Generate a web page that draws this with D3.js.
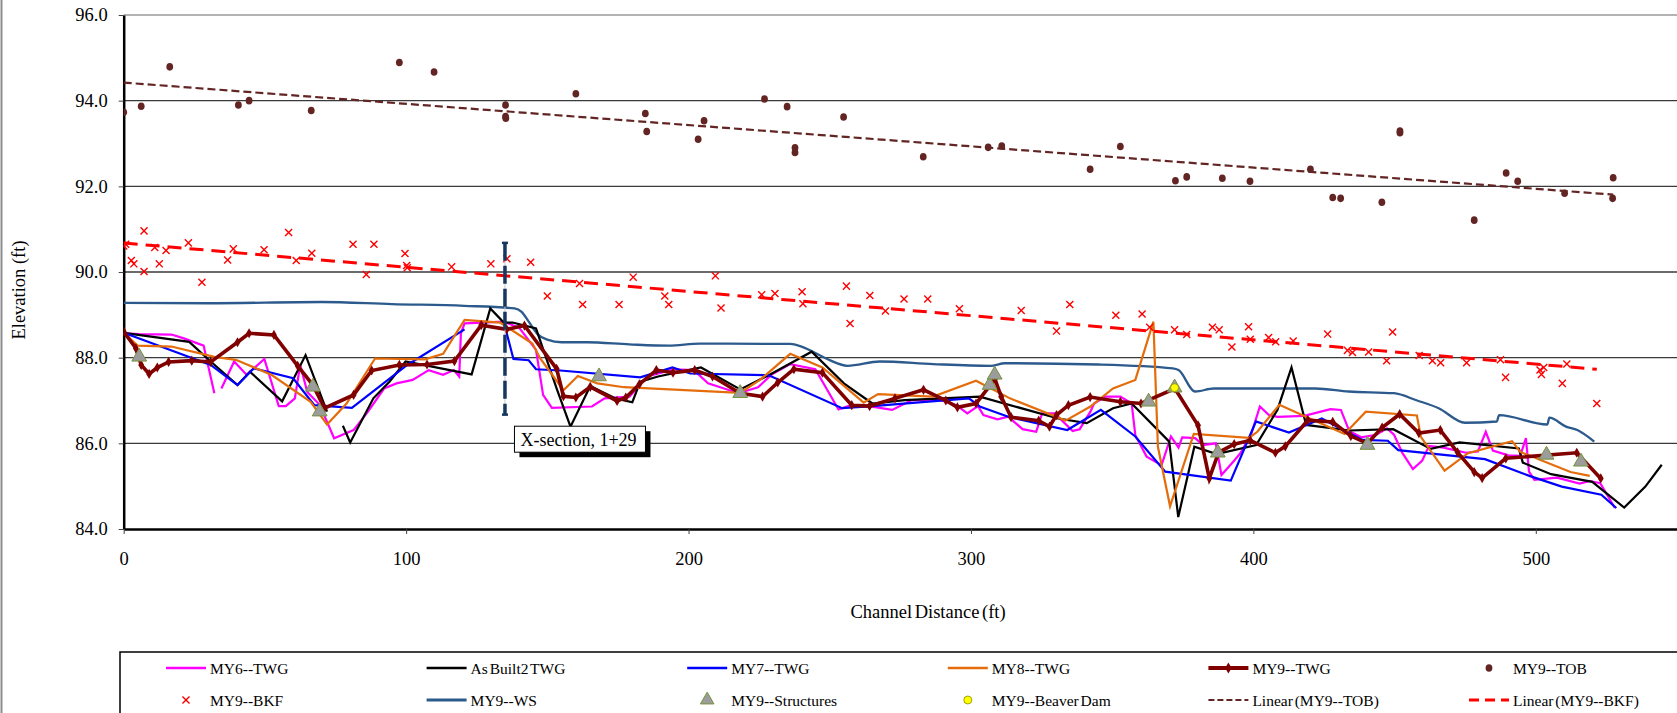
<!DOCTYPE html>
<html>
<head>
<meta charset="utf-8">
<script src="https://cdn.jsdelivr.net/npm/d3@7"></script>
<style>
  body { margin: 0; background: #fff; }
  text { font-family: "Liberation Serif", "Times New Roman", serif; fill: #000; }
</style>
</head>
<body>
<div id="chart"></div>
<script>
// channel distance (ft), elevation (ft); null = break in the line
const my6Twg = [[0,88.57],[5.5,88.55],[16.9,88.54],[21.3,88.45],[28.3,88.28],[32.1,87.17],[33.3,null],[34.6,87.28],[39.1,87.91],[43.5,87.6],[49.8,87.97],[54.9,86.87],[57.4,86.87],[60.6,87.05],[62.5,87.83],[65,87.2],[69.4,86.9],[74.5,86.12],[81.4,86.31],[86.5,86.74],[92.2,87.28],[96.6,87.4],[102.3,87.48],[108,87.71],[113.1,87.6],[116.9,87.71],[118.8,87.56],[119.4,88.57],[120.7,88.8],[134.6,88.84],[140,88.7],[146,88.18],[148.5,87.13],[151.6,86.83],[165.8,86.86],[170.3,87.05],[179.1,87.09],[185.4,87.56],[194.9,87.73],[201.9,87.71],[206.9,87.4],[217.7,87.17],[224.6,87.31],[229.7,87.62],[236,87.85],[244.9,87.73],[253.1,86.79],[257.5,86.89],[263.9,86.87],[272.1,86.78],[279.1,87.01],[289.2,87.01],[294.9,86.89],[298.7,86.7],[302.5,86.87],[304.4,86.66],[309.4,86.56],[313.2,86.62],[318.3,86.33],[323.1,86.27],[325.2,86.7],[329.7,86.7],[336,86.29],[338.5,86.33],[342.3,86.74],[343.6,86.93],[347.6,87.09],[352.9,87.09],[356.9,86.93],[358.2,86.19],[362.2,85.69],[367.5,85.49],[370.8,86.16],[373.5,85.9],[374.8,86.14],[379.4,86.12],[382.1,85.96],[386.7,86],[388.7,85.26],[393.4,85.61],[395.4,85.77],[399.3,86.23],[402.3,86.86],[405.5,86.66],[408.6,86.62],[418,86.64],[427.3,86.8],[431,86.78],[434,86.28],[438.2,86.14],[443.5,86.2],[447.3,86.35],[449.8,86.2],[452.8,85.77],[456.5,85.4],[459.8,85.6],[462.2,85.94],[467.3,85.9],[475.3,85.78],[479.5,85.81],[482.3,86.27],[484.8,85.83],[490.3,85.72],[494.5,85.71],[496.5,86.12],[497.6,85.34],[499.5,85.15],[507.5,85.2],[515.5,85.06],[519.2,85.12],[522.8,85.07],[524.8,84.85],[528,84.49]];

const asBuilt2Twg = [[0,88.58],[23.2,88.37],[30.8,87.91],[40.3,87.36],[44.7,87.67],[56.1,86.98],[64.4,88.06],[72,86.74],[75,null],[77.6,86.41],[80.2,86.02],[88.4,87.05],[94.1,87.44],[99.8,87.91],[123.2,87.61],[129.8,89.15],[134.6,88.82],[137.7,88.82],[146,88.68],[153.5,87.24],[158.2,86.39],[165.2,87.34],[174,87.05],[180.1,86.96],[182.9,87.44],[189.2,87.56],[204.4,87.77],[218.3,87.26],[228.4,87.59],[243.6,88.14],[255,87.4],[265.1,86.93],[276.5,87.01],[303.1,87.09],[330.9,86.58],[341,86.47],[350.3,86.82],[356.9,86.93],[370.2,86.04],[373.4,84.28],[379.1,85.92],[387,85.75],[401,85.96],[408.5,86.78],[413.5,87.77],[418.7,86.43],[434,86.3],[449.5,86.33],[462.8,85.87],[473,86.02],[494,85.88],[495.4,85.55],[505.4,85.28],[520,85.1],[531.3,84.5],[538.8,84.99],[544.6,85.5]];

const my7Twg = [[0,88.58],[30.8,87.83],[40.3,87.36],[46,87.75],[60,87.52],[67.5,86.89],[80.8,86.83],[100.4,87.83],[120.7,88.66],[128,null],[135.5,88.6],[138,87.97],[143.4,87.94],[146,87.73],[154.6,87.7],[182.9,87.54],[194.3,87.77],[200.6,87.63],[228.4,87.59],[254.4,86.82],[265.1,86.87],[299.3,87.05],[303.1,86.86],[313.2,86.62],[334.1,86.31],[346,86.78],[358.2,86.16],[368.8,85.34],[392,85.13],[400.9,86.51],[412.6,86.25],[424.2,86.58],[433,86.27],[438.6,86.08],[447.6,86.06],[451.3,85.84],[482,85.63],[497.7,85.24],[509.2,84.99],[523.2,84.8],[528.5,84.49]];

const my8Twg = [[0,88.58],[4.9,88.28],[16.9,88.26],[32.1,88.02],[39.7,87.95],[52.3,87.6],[66.2,86.97],[72,86.44],[78.9,86.93],[89,87.98],[106.7,87.96],[113.1,88.09],[120.7,88.88],[133.3,88.82],[144.7,88.33],[147.5,87.98],[155.7,87.24],[160.8,87.57],[167.7,87.4],[177.2,87.31],[218.3,87.18],[225.3,87.48],[236,88.09],[247.4,87.77],[262,86.95],[267.1,87.15],[286.6,87.09],[301.8,87.46],[313.8,87.05],[333.5,86.53],[342.3,86.86],[350.3,87.28],[358.2,87.48],[364.6,88.84],[366.2,85.92],[370.5,84.53],[378.9,86.22],[398.5,86.13],[401.4,86.27],[409.2,86.9],[418.6,86.62],[432.3,86.22],[439.8,86.74],[457.9,86.65],[459.3,86.15],[467.7,85.36],[476,85.77],[491.6,86.05],[494.5,85.8],[512.3,85.33],[519.1,85.24]];

const my9Twg = [[0,88.61],[4.3,88.22],[6.2,87.83],[9,87.62],[11.9,87.77],[15.9,87.9],[24.1,87.93],[30.8,87.9],[40.3,88.36],[44.4,88.57],[53.2,88.53],[61.6,87.81],[67,87.36],[71.1,86.82],[81.4,87.13],[87.8,87.7],[97.6,87.83],[107.4,87.84],[117.1,87.92],[126.6,88.76],[135.6,88.66],[141.9,88.75],[153.3,87.74],[155.7,87.1],[160.1,87.07],[165.2,87.32],[174.7,86.99],[177.8,87.07],[182.6,87.38],[188.6,87.71],[194.5,87.65],[202.2,87.71],[208.5,87.56],[218.3,87.17],[226.2,87.09],[231.6,87.42],[237.3,87.73],[247.4,87.65],[257.8,86.89],[264.1,86.87],[273.1,87.05],[283.2,87.25],[291.1,87],[295.2,86.84],[301.8,86.93],[308.5,87.5],[310.7,87.09],[314.2,86.61],[324,86.53],[327.8,86.39],[330.3,86.66],[334.5,86.89],[342.2,87.08],[352.9,86.97],[360.2,86.93],[372.2,87.28],[380.4,86.42],[384.4,85.18],[387.7,85.79],[393.2,85.98],[398.9,86.07],[407.8,85.78],[411.3,85.93],[419.3,86.54],[428.1,86.5],[434.5,86.17],[440.4,86],[445.6,86.37],[451.8,86.68],[458.6,86.24],[466.2,86.31],[472.3,85.79],[478.2,85.33],[481,85.19],[489.4,85.65],[514.5,85.78],[523,85.18]];

const my9Tob = [[0,93.73],[6.2,93.87],[16.3,94.79],[40.6,93.9],[44.4,94],[66.4,93.77],[97.6,94.89],[109.9,94.67],[135.2,93.9],[135.2,93.63],[135.3,93.59],[160.1,94.16],[184.7,93.7],[185.2,93.28],[203.4,93.1],[205.5,93.53],[226.9,94.04],[234.9,93.86],[237.7,92.9],[237.7,92.79],[254.9,93.62],[283.1,92.69],[306.1,92.91],[310.9,92.94],[342.2,92.4],[352.9,92.93],[372.4,92.13],[376.4,92.22],[389,92.19],[398.8,92.12],[420.2,92.4],[428.1,91.74],[430.9,91.72],[445.5,91.63],[451.9,93.29],[451.9,93.25],[478.2,91.21],[489.5,92.31],[493.6,92.12],[510.2,91.84],[527.4,92.2],[527.2,91.72]];

const my9Bkf = [[0,90.61],[0.7,90.65],[2.7,90.27],[3.6,90.19],[7.2,90.96],[7.2,90.01],[11,90.57],[12.6,90.19],[15,90.5],[22.9,90.68],[27.7,89.76],[36.8,90.28],[38.8,90.54],[49.7,90.52],[58.4,90.92],[61.1,90.27],[66.6,90.44],[81.2,90.65],[85.9,89.94],[88.6,90.65],[99.6,90.43],[100.2,90.15],[100.4,90.1],[116.1,90.12],[130,90.19],[135.7,90.31],[144.1,90.23],[150,89.44],[161.4,89.73],[162.5,89.24],[175.4,89.24],[180.4,89.88],[191.6,89.44],[193,89.24],[209.5,89.91],[211.5,89.16],[225.9,89.47],[230.6,89.5],[240.2,89.54],[240.5,89.26],[255.9,89.67],[257.2,88.8],[264.2,89.45],[269.7,89.09],[276.3,89.37],[284.7,89.37],[295.9,89.14],[317.8,89.1],[330.3,88.62],[335,89.24],[351.3,88.99],[360.6,89.02],[363.3,88.71],[372.1,88.65],[376.4,88.54],[385.5,88.71],[387.9,88.65],[392.4,88.25],[398.3,88.72],[398.9,88.43],[405.4,88.47],[407.9,88.37],[414.1,88.39],[426.3,88.55],[433.3,88.17],[435.1,88.12],[440.8,88.13],[447.2,87.93],[449.3,88.6],[458.7,88.05],[463.4,87.93],[466.3,87.88],[475.5,87.88],[487.5,87.95],[489.3,87.54],[501.5,87.71],[502,87.61],[502.8,87.77],[509.4,87.4],[511,87.85],[521.6,86.93]];

const my9Ws = [[0,89.28],[30,89.27],[70,89.3],[95,89.25],[120.6,89.21],[138.4,89.15],[140.9,89.07],[143.4,88.84],[146.5,88.55],[150,88.42],[155,88.36],[164,88.36],[179,88.31],[193,88.28],[204,88.33],[236,88.32],[240,88.26],[248.7,87.98],[256.3,87.81],[267.7,87.91],[286.6,87.85],[306.9,87.81],[312,87.87],[345,87.84],[371.5,87.75],[373.5,87.71],[379.4,87.21],[386,87.28],[421.9,87.28],[433.8,87.21],[449.7,87.17],[458,87],[465.6,86.82],[474.9,86.48],[486.2,86.51],[487,86.66],[504.1,86.44],[504.8,86.6],[510.7,86.39],[514.7,86.31],[520.7,86.04]];

const my9Structures = [[5.5,88.02],[67,87.32],[69.4,86.74],[168.3,87.56],[218.3,87.17],[306.6,87.36],[308.4,87.6],[362.9,86.97],[372.1,87.3],[387.4,85.78],[440.4,85.96],[503.8,85.73],[516,85.57]];

const my9BeaverDam = [[372.1,87.3]];

const xSection = { station: 135, bottom: 86.67, top: 90.68, label: "X-section, 1+29" };

const xTicks = [0, 100, 200, 300, 400, 500];
const yTicks = [84, 86, 88, 90, 92, 94, 96];

const legendRow1 = ["MY6--TWG", "As Built2 TWG", "MY7--TWG", "MY8--TWG", "MY9--TWG", "MY9--TOB"];
const legendRow2 = ["MY9--BKF", "MY9--WS", "MY9--Structures", "MY9--Beaver Dam", "Linear (MY9--TOB)", "Linear (MY9--BKF)"];

// ------------------------------------------------------------------

let width = 1677, height = 713;
let plotLeft = 123.7, plotRight = 1677, plotTop = 15, plotBottom = 529;

let svg = d3.select('#chart')
            .append('svg')
            .attr('width', width)
            .attr('height', height);

let x_scale = d3.scaleLinear().domain([0, 550]).range([plotLeft, plotRight]);
let y_scale = d3.scaleLinear().domain([84, 96]).range([plotBottom, plotTop]);

svg.append('defs').append('clipPath').attr('id', 'plotClip')
  .append('rect')
  .attr('x', plotLeft).attr('y', plotTop - 10)
  .attr('width', plotRight - plotLeft).attr('height', plotBottom - plotTop + 10);

// chart area border (left)
svg.append('line')
  .attr('x1', 1.5).attr('x2', 1.5).attr('y1', 0).attr('y2', height)
  .attr('stroke', '#8c8c8c').attr('stroke-width', 2);

// gridlines
svg.append('g').selectAll('line')
  .data(yTicks.filter(d => d > 84))
  .enter()
  .append('line')
  .attr('x1', plotLeft).attr('x2', plotRight)
  .attr('y1', d => y_scale(d)).attr('y2', d => y_scale(d))
  .attr('stroke', d => d === 96 ? '#b3b3b3' : '#3a3a3a')
  .attr('stroke-width', d => d === 96 ? 2 : 1.3);

// axes
let y_axis = d3.axisLeft(y_scale)
  .tickValues(yTicks)
  .tickFormat(d3.format('.1f'))
  .tickSize(5)
  .tickSizeOuter(0)
  .tickPadding(11);

let yg = svg.append('g')
  .attr('transform', 'translate(' + plotLeft + ',0)')
  .call(y_axis);
yg.select('.domain').attr('stroke', '#000').attr('stroke-width', 2.5);
yg.selectAll('.tick line').attr('stroke', '#444');
yg.selectAll('.tick text').attr('font-size', 18.5).attr('font-family', '"Liberation Serif", serif');

let x_axis = d3.axisBottom(x_scale)
  .tickValues(xTicks)
  .tickFormat(d3.format('d'))
  .tickSize(5)
  .tickSizeOuter(0)
  .tickPadding(18);

let xg = svg.append('g')
  .attr('transform', 'translate(0,' + plotBottom + ')')
  .call(x_axis);
xg.select('.domain').attr('stroke', '#000').attr('stroke-width', 2.5);
xg.selectAll('.tick line').attr('stroke', '#444');
xg.selectAll('.tick text').attr('font-size', 18.5).attr('font-family', '"Liberation Serif", serif');

// axis titles
svg.append('text')
  .attr('transform', 'translate(19,290) rotate(-90)')
  .attr('text-anchor', 'middle')
  .attr('dominant-baseline', 'central')
  .attr('font-size', 18.5)
  .text('Elevation (ft)');

svg.append('text')
  .attr('x', 928).attr('y', 612)
  .attr('text-anchor', 'middle')
  .attr('dominant-baseline', 'central')
  .attr('font-size', 18.5)
  .attr('word-spacing', -2)
  .text('Channel Distance (ft)');

// series
let plot = svg.append('g').attr('clip-path', 'url(#plotClip)');

let line = d3.line()
  .defined(d => d[1] !== null)
  .x(d => x_scale(d[0]))
  .y(d => y_scale(d[1]));

let smooth = d3.line()
  .x(d => x_scale(d[0]))
  .y(d => y_scale(d[1]))
  .curve(d3.curveMonotoneX);

function linearFit(data) {
  let mx = d3.mean(data, d => d[0]), my = d3.mean(data, d => d[1]);
  let sxy = d3.sum(data, d => (d[0] - mx) * (d[1] - my));
  let sxx = d3.sum(data, d => (d[0] - mx) * (d[0] - mx));
  let slope = sxy / sxx, icpt = my - slope * mx;
  let ext = d3.extent(data, d => d[0]);
  return ext.map(v => [v, icpt + slope * v]);
}

// water surface
plot.append('path')
  .datum(my9Ws)
  .attr('d', smooth)
  .attr('fill', 'none')
  .attr('stroke', '#2c5a8c')
  .attr('stroke-width', 2.3);

let twgSeries = [
  { data: my6Twg, color: '#ff00ff' },
  { data: asBuilt2Twg, color: '#000000' },
  { data: my7Twg, color: '#0000ff' },
  { data: my8Twg, color: '#e46c0a' }
];

twgSeries.forEach(s => {
  plot.append('path')
    .datum(s.data)
    .attr('d', line)
    .attr('fill', 'none')
    .attr('stroke', s.color)
    .attr('stroke-width', 2.2)
    .attr('stroke-linejoin', 'miter');
});

// MY9 thalweg
plot.append('path')
  .datum(my9Twg)
  .attr('d', line)
  .attr('fill', 'none')
  .attr('stroke', '#800000')
  .attr('stroke-width', 3.6);

plot.selectAll('.diamond')
  .data(my9Twg)
  .enter()
  .append('path')
  .attr('class', 'diamond')
  .attr('transform', d => 'translate(' + x_scale(d[0]) + ',' + y_scale(d[1]) + ')')
  .attr('d', d3.symbol(d3.symbolDiamond, 30))
  .attr('fill', '#800000');

// top of bank
plot.selectAll('.tob')
  .data(my9Tob)
  .enter()
  .append('ellipse')
  .attr('class', 'tob')
  .attr('cx', d => x_scale(d[0]))
  .attr('cy', d => y_scale(d[1]))
  .attr('rx', 3.4).attr('ry', 3.8)
  .attr('fill', '#632523');

// bankfull
plot.selectAll('.bkf')
  .data(my9Bkf)
  .enter()
  .append('path')
  .attr('class', 'bkf')
  .attr('transform', d => 'translate(' + x_scale(d[0]) + ',' + y_scale(d[1]) + ')')
  .attr('d', d3.symbol(d3.symbolX, 34))
  .attr('fill', 'none')
  .attr('stroke', '#ff0000')
  .attr('stroke-width', 1.4);

// trend lines
plot.append('path')
  .datum(linearFit(my9Tob))
  .attr('d', line)
  .attr('stroke', '#632523')
  .attr('stroke-width', 2.2)
  .attr('stroke-dasharray', '8,4')
  .attr('fill', 'none');

plot.append('path')
  .datum(linearFit(my9Bkf))
  .attr('d', line)
  .attr('stroke', '#ff0000')
  .attr('stroke-width', 3)
  .attr('stroke-dasharray', '14,8')
  .attr('fill', 'none');

// structures
plot.selectAll('.struct')
  .data(my9Structures)
  .enter()
  .append('path')
  .attr('class', 'struct')
  .attr('transform', d => 'translate(' + x_scale(d[0]) + ',' + y_scale(d[1]) + ')')
  .attr('d', d3.symbol(d3.symbolTriangle, 95))
  .attr('fill', '#9c9c9c')
  .attr('stroke', '#77933c')
  .attr('stroke-width', 1);

plot.selectAll('.beaver')
  .data(my9BeaverDam)
  .enter()
  .append('circle')
  .attr('class', 'beaver')
  .attr('cx', d => x_scale(d[0]))
  .attr('cy', d => y_scale(d[1]))
  .attr('r', 4)
  .attr('fill', '#ffff00')
  .attr('stroke', '#8c8c00')
  .attr('stroke-width', 0.8);

// cross-section marker
let xs = x_scale(xSection.station);
svg.append('line')
  .attr('x1', xs).attr('x2', xs)
  .attr('y1', y_scale(xSection.top)).attr('y2', y_scale(xSection.bottom))
  .attr('stroke', '#c8c8c8').attr('stroke-width', 1);
svg.append('line')
  .attr('x1', xs).attr('x2', xs)
  .attr('y1', y_scale(xSection.top)).attr('y2', y_scale(xSection.bottom))
  .attr('stroke', '#17375e').attr('stroke-width', 3.5)
  .attr('stroke-dasharray', '18,5');
[xSection.top, xSection.bottom].forEach(v => {
  svg.append('line')
    .attr('x1', xs - 3).attr('x2', xs + 3)
    .attr('y1', y_scale(v)).attr('y2', y_scale(v))
    .attr('stroke', '#17375e').attr('stroke-width', 2.5);
});

let boxX = xs + 9.5, boxY = y_scale(86.4), boxW = 131, boxH = 26;
svg.append('rect')
  .attr('x', boxX + 5).attr('y', boxY + 5)
  .attr('width', boxW).attr('height', boxH)
  .attr('fill', '#000');
svg.append('rect')
  .attr('x', boxX).attr('y', boxY)
  .attr('width', boxW).attr('height', boxH)
  .attr('fill', '#fff').attr('stroke', '#000').attr('stroke-width', 1);
svg.append('text')
  .attr('x', boxX + 6).attr('y', boxY + boxH / 2 + 1)
  .attr('dominant-baseline', 'central')
  .attr('font-size', 18)
  .text(xSection.label);

// legend
let legend = svg.append('g');
legend.append('rect')
  .attr('x', 120).attr('y', 652)
  .attr('width', 1600).attr('height', 120)
  .attr('fill', 'none')
  .attr('stroke', '#000')
  .attr('stroke-width', 1.5);

let colX = d3.range(6).map(i => 166 + 260.6 * i);
let rowY = [668, 700];

function legendText(label, i, r) {
  legend.append('text')
    .attr('x', colX[i] + 44).attr('y', rowY[r])
    .attr('dominant-baseline', 'central')
    .attr('font-size', 15.5)
    .attr('word-spacing', -2)
    .text(label);
}
function legendLine(i, r, color, w, dash) {
  legend.append('line')
    .attr('x1', colX[i]).attr('x2', colX[i] + 40)
    .attr('y1', rowY[r]).attr('y2', rowY[r])
    .attr('stroke', color).attr('stroke-width', w)
    .attr('stroke-dasharray', dash || null);
}
function at(i, r) { return 'translate(' + (colX[i] + 20) + ',' + rowY[r] + ')'; }

legendRow1.forEach((t, i) => legendText(t, i, 0));
legendRow2.forEach((t, i) => legendText(t, i, 1));

legendLine(0, 0, '#ff00ff', 2.5);
legendLine(1, 0, '#000000', 2.5);
legendLine(2, 0, '#0000ff', 2.5);
legendLine(3, 0, '#e46c0a', 2.5);
legendLine(4, 0, '#800000', 4);
legend.append('path').attr('transform', at(4, 0)).attr('d', d3.symbol(d3.symbolDiamond, 36)).attr('fill', '#800000');
legend.append('ellipse').attr('transform', at(5, 0)).attr('rx', 3.4).attr('ry', 3.8).attr('fill', '#632523');

legend.append('path').attr('transform', at(0, 1)).attr('d', d3.symbol(d3.symbolX, 34))
  .attr('fill', 'none').attr('stroke', '#ff0000').attr('stroke-width', 1.4);
legendLine(1, 1, '#2c5a8c', 3);
legend.append('path').attr('transform', at(2, 1)).attr('d', d3.symbol(d3.symbolTriangle, 80))
  .attr('fill', '#9c9c9c').attr('stroke', '#77933c').attr('stroke-width', 1);
legend.append('circle').attr('transform', at(3, 1)).attr('r', 4)
  .attr('fill', '#ffff00').attr('stroke', '#8c8c00').attr('stroke-width', 0.8);
legendLine(4, 1, '#632523', 2.2, '6,3');
legendLine(5, 1, '#ff0000', 3, '10,6');
</script>
</body>
</html>
